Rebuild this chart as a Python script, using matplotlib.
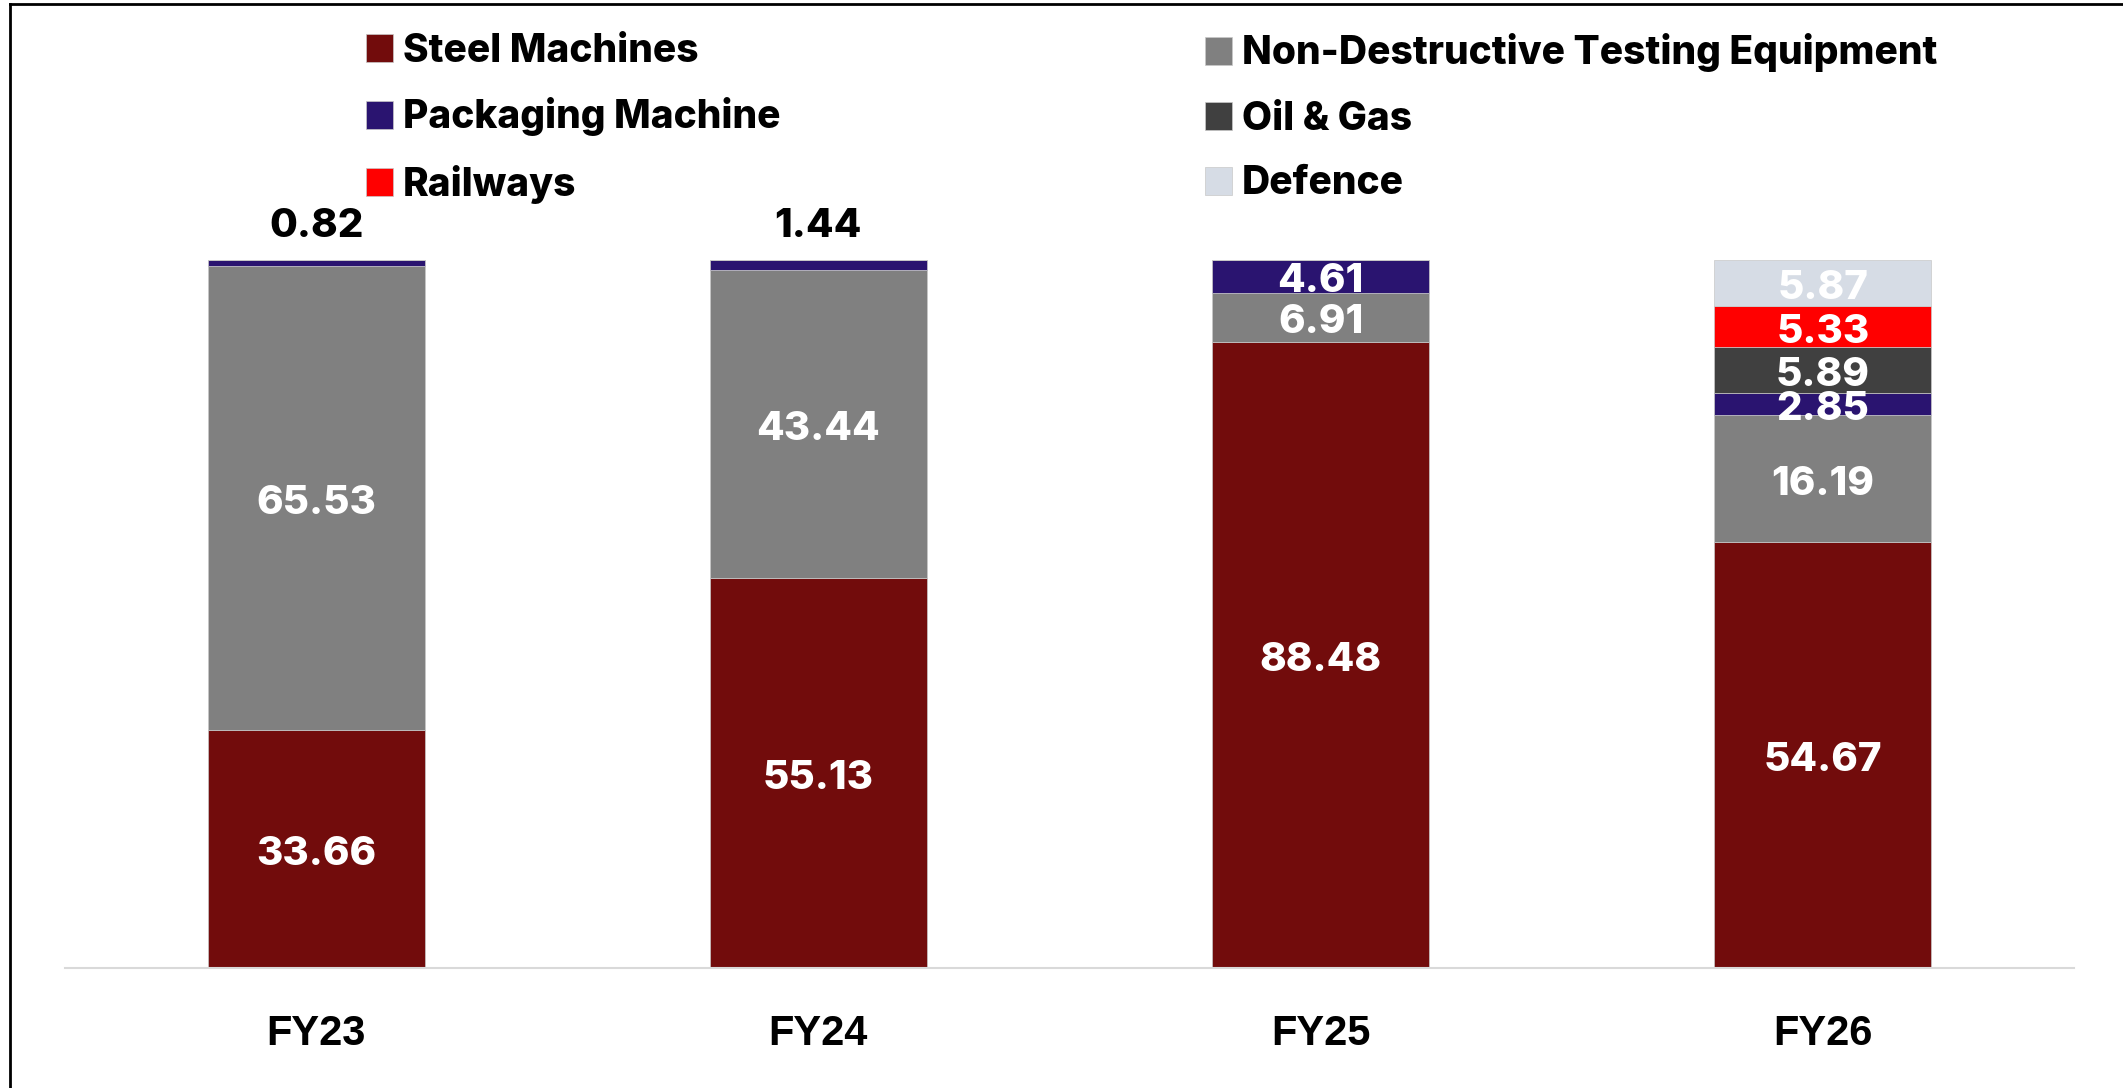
import numpy as np
import matplotlib.pyplot as plt
from matplotlib.lines import Line2D

# data (share of revenue by segment, %)
categories = ['FY23', 'FY24', 'FY25', 'FY26']
steel_machines = [33.66, 55.13, 88.48, 54.67]
ndt_equipment = [65.53, 43.44, 6.91, 16.19]
packaging_machine = [0.82, 1.44, 4.61, 2.85]
oil_gas = [0, 0, 0, 5.89]
railways = [0, 0, 0, 5.33]
defence = [0, 0, 0, 5.87]

series = [
    ('Steel Machines', steel_machines, '#720C0C'),
    ('Non-Destructive Testing Equipment', ndt_equipment, '#808080'),
    ('Packaging Machine', packaging_machine, '#2A1470'),
    ('Oil & Gas', oil_gas, '#404040'),
    ('Railways', railways, '#FF0000'),
    ('Defence', defence, '#D6DCE5'),
]

W, H = 2123, 1088
fig = plt.figure(figsize=(W / 100, H / 100), dpi=100)
ax = fig.add_axes([65 / W, 1 - 968 / H, (2074 - 65) / W, (968 - 260) / H])

x = np.arange(len(categories))
totals = np.sum([s[1] for s in series], axis=0)
bottom = np.zeros(len(categories))
handles = {}
label_font = dict(family='Inter', weight=800, fontsize=29)

for name, vals, color in series:
    vals = np.array(vals, dtype=float)
    pct = vals / totals * 100
    bars = ax.bar(x, pct, bottom=bottom, width=0.432, color=color,
                  edgecolor='#C8C8C8', linewidth=0.5, label=name)
    handles[name] = bars
    for i, v in enumerate(vals):
        if v == 0:
            continue
        if pct[i] < 2:
            # tiny top segment: label above the bar
            ax.annotate(f'{v:.2f}', (x[i], bottom[i] + pct[i]), xytext=(0, 11),
                        textcoords='offset points', ha='center', va='bottom',
                        color='black', annotation_clip=False, **label_font)
        else:
            ax.annotate(f'{v:.2f}', (x[i], bottom[i] + pct[i] / 2), xytext=(0, -4),
                        textcoords='offset points', ha='center', va='center',
                        color='white', **label_font)
    bottom += pct

ax.set_xlim(-0.5, 3.5)
ax.set_ylim(0, 100)
ax.set_xticks(x)
ax.set_xticklabels(categories, family='Liberation Sans', weight='bold', fontsize=30)
ax.tick_params(axis='x', length=0, pad=33)
ax.set_yticks([])
for side in ['top', 'right', 'left']:
    ax.spines[side].set_visible(False)
ax.spines['bottom'].set_color('#D9D9D9')
ax.spines['bottom'].set_linewidth(1.5)

# legend: two columns placed separately
leg_kw = dict(frameon=False, loc='center left', borderpad=0, borderaxespad=0,
              handlelength=0.7, handleheight=0.7, handletextpad=0.25,
              labelspacing=0.72, prop=dict(family='Inter', weight=800, size=28))
col1 = ['Steel Machines', 'Packaging Machine', 'Railways']
col2 = ['Non-Destructive Testing Equipment', 'Oil & Gas', 'Defence']
fig.legend([handles[n] for n in col1], col1,
           bbox_to_anchor=(366 / W, 1 - 118 / H), **leg_kw)
fig.legend([handles[n] for n in col2], col2,
           bbox_to_anchor=(1205 / W, 1 - 118 / H), **leg_kw)

# frame lines along the top and left edges
fig.add_artist(Line2D([10 / W, 1], [1 - 4 / H, 1 - 4 / H], color='black', linewidth=2))
fig.add_artist(Line2D([10 / W, 10 / W], [0, 1 - 4 / H], color='black', linewidth=2))

fig.savefig('out.png', dpi=100, facecolor='white')
